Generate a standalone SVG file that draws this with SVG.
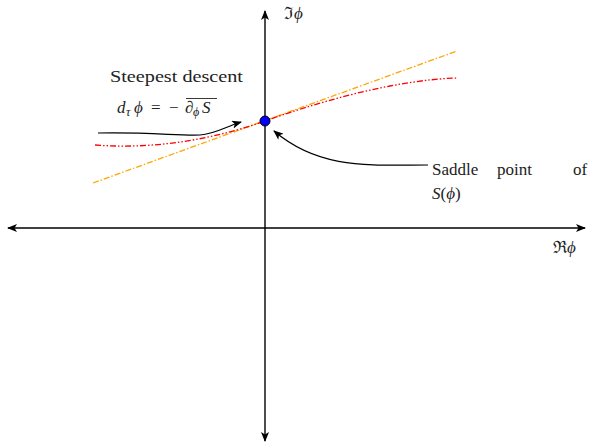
<svg xmlns="http://www.w3.org/2000/svg" width="592" height="444" viewBox="0 0 592 444">
<defs>
<marker id="ah" viewBox="0 0 10 8" refX="9" refY="4" markerWidth="10" markerHeight="8" markerUnits="userSpaceOnUse" orient="auto">
<path d="M0,0 L10,4 L0,8 L2.5,4 Z" fill="#000"/>
</marker>
</defs>
<g id="connectors" fill="none">
<g stroke="#000" stroke-width="1.4">
<line x1="265" y1="228" x2="585" y2="228" marker-end="url(#ah)"/>
<line x1="265" y1="228" x2="8" y2="228" marker-end="url(#ah)"/>
<line x1="265" y1="228" x2="265" y2="11" marker-end="url(#ah)"/>
<line x1="265" y1="228" x2="265" y2="441" marker-end="url(#ah)"/>
</g>
<line x1="93" y1="183" x2="457" y2="51" stroke="#ffa500" stroke-width="1.3" stroke-dasharray="6 2 1.5 2"/>
<path d="M95,145 C160,150 220,137 265,121 C310,105 390,80 457,78" stroke="#ff0000" stroke-width="1.3" stroke-dasharray="6 2 1.5 2 1.5 2"/>
<g stroke="#000" stroke-width="1.2">
<path d="M98,133 C150,132 180,136 200,135 C215,134 225,127 241,122" marker-end="url(#ah)"/>
<path d="M428,165 C370,165 320,170 274,131" marker-end="url(#ah)"/>
</g>
</g>
<g id="saddle">
<circle cx="265" cy="121" r="5" fill="#0000ff" stroke="#000" stroke-width="1"/>
</g>
<g id="label-steepest">
<text font-family="Liberation Serif" font-size="17" fill="#222" x="110" y="82" textLength="133" lengthAdjust="spacingAndGlyphs">Steepest descent</text>
<text font-family="Liberation Serif" font-size="17" fill="#222"><tspan font-style="italic" x="117" y="113">d</tspan><tspan font-style="italic" x="126" y="116" font-size="12">&#964;</tspan><tspan font-style="italic" x="134" y="113">&#981;</tspan><tspan x="151" y="113">=</tspan><tspan x="169" y="113">&#8722;</tspan><tspan font-style="italic" x="185" y="113">&#8706;</tspan><tspan font-style="italic" x="193" y="116" font-size="12">&#981;</tspan><tspan font-style="italic" x="202" y="113">S</tspan></text>
<line x1="186" y1="98.5" x2="217" y2="98.5" stroke="#222" stroke-width="0.9"/>
</g>
<g id="label-saddle">
<text font-family="Liberation Serif" font-size="17" fill="#222" x="432" y="175">Saddle</text>
<text font-family="Liberation Serif" font-size="17" fill="#222" x="497" y="175">point</text>
<text font-family="Liberation Serif" font-size="17" fill="#222" x="573" y="175">of</text>
<text font-family="Liberation Serif" font-size="17" fill="#222" x="432" y="199"><tspan font-style="italic">S</tspan>(<tspan font-style="italic">&#981;</tspan>)</text>
</g>
<g id="axis-labels">
<text font-family="Liberation Serif" font-size="17" fill="#222" x="284" y="19">&#8465;<tspan font-style="italic">&#981;</tspan></text>
<text font-family="Liberation Serif" font-size="17" fill="#222" x="553" y="253">&#8476;<tspan font-style="italic">&#981;</tspan></text>
</g>
</svg>
